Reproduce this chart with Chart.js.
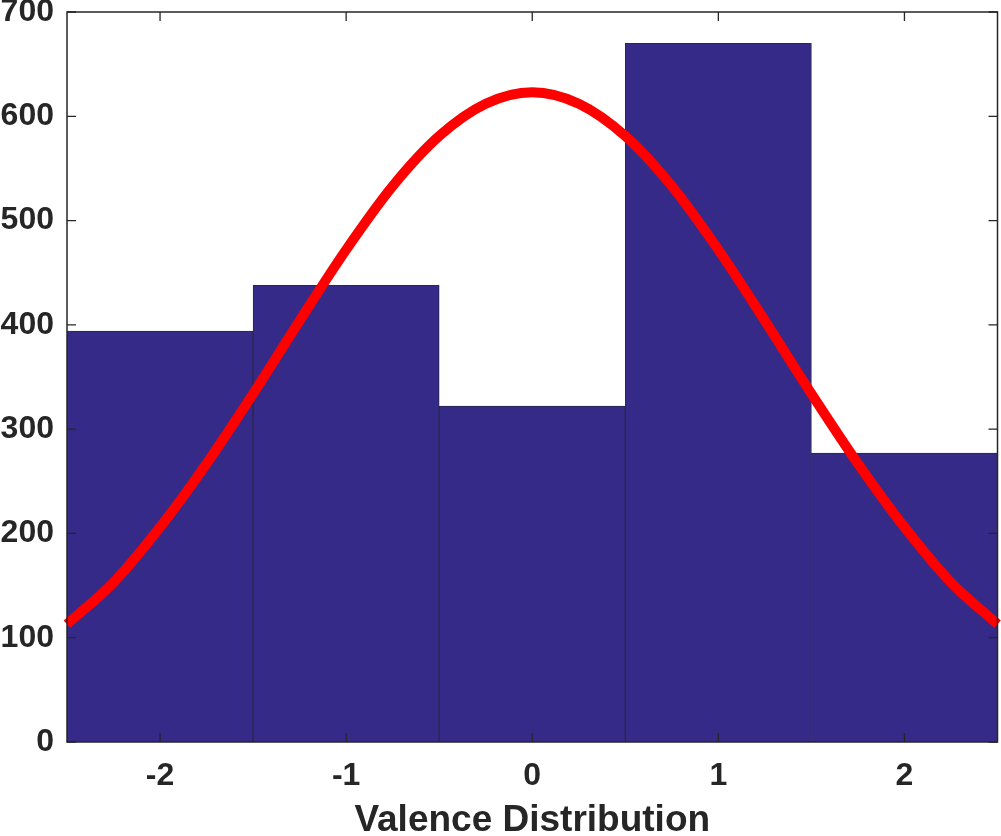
<!DOCTYPE html>
<html>
<head>
<meta charset="utf-8">
<script src="https://cdn.jsdelivr.net/npm/chart.js@4"></script>
<style>
  html, body { margin: 0; padding: 0; background: #fff; }
  #wrap { width: 1001px; height: 836px; position: relative; }
</style>
</head>
<body>
<div id="wrap"><canvas id="c"></canvas></div>
<script>
// Histogram bins (centres) and counts
const binCentres = [-2, -1, 0, 1, 2];
const binCounts  = [394, 438, 322, 670, 277];

// Fitted curve
const curveX = [-2.5, -2.25, -2, -1.75, -1.5, -1.25, -1, -0.75, -0.5, -0.25, 0,
                0.25, 0.5, 0.75, 1, 1.25, 1.5, 1.75, 2, 2.25, 2.5];
const curveY = [113, 153, 206, 267, 334, 404, 472, 533, 581, 612, 623,
                612, 581, 533, 472, 404, 334, 267, 206, 153, 113];

// Tick labels
const xTicks = [-2, -1, 0, 1, 2];
const yTicks = [0, 100, 200, 300, 400, 500, 600, 700];
const xTitle = 'Valence Distribution';

const axisColor = '#262626';
const tickFont = { family: "'Liberation Sans', Arial, sans-serif", size: 32, weight: 'bold' };

const frame = {
  id: 'frame',
  afterDraw(chart) {
    const { ctx, chartArea: a, scales: { x, y } } = chart;
    ctx.save();
    ctx.strokeStyle = axisColor;
    ctx.lineWidth = 1.5;
    ctx.strokeRect(a.left, a.top, a.right - a.left, a.bottom - a.top);
    ctx.lineWidth = 1.3;
    const tl = 9;
    ctx.beginPath();
    xTicks.forEach(v => {
      const px = x.getPixelForValue(v);
      ctx.moveTo(px, a.bottom); ctx.lineTo(px, a.bottom - tl);
      ctx.moveTo(px, a.top); ctx.lineTo(px, a.top + tl);
    });
    yTicks.forEach(v => {
      const py = y.getPixelForValue(v);
      ctx.moveTo(a.left, py); ctx.lineTo(a.left + tl, py);
      ctx.moveTo(a.right, py); ctx.lineTo(a.right - tl, py);
    });
    ctx.stroke();
    ctx.restore();
  }
};

new Chart(document.getElementById('c'), {
  data: {
    datasets: [
      {
        type: 'line',
        data: curveX.map((v, i) => ({ x: v, y: curveY[i] })),
        borderColor: '#ff0000',
        borderWidth: 10,
        pointRadius: 0,
        tension: 0.4,
        cubicInterpolationMode: 'monotone',
        clip: false,
        order: 0
      },
      {
        type: 'bar',
        data: binCentres.map((v, i) => ({ x: v, y: binCounts[i] })),
        backgroundColor: '#352a87',
        borderColor: '#2a2a44',
        borderWidth: 1,
        barPercentage: 1,
        categoryPercentage: 1,
        order: 1
      }
    ]
  },
  options: {
    responsive: true,
    maintainAspectRatio: false,
    animation: false,
    layout: { padding: { top: 12, right: 3.5, left: 0, bottom: 0 } },
    plugins: { legend: { display: false }, tooltip: { enabled: false } },
    scales: {
      x: {
        type: 'linear',
        offset: false,
        min: -2.5, max: 2.5,
        afterBuildTicks: s => { s.ticks = xTicks.map(v => ({ value: v })); },
        afterFit: s => { s.height = 94; s.paddingLeft = 0; s.paddingRight = 0; },
        grid: { display: false, drawTicks: false, offset: false },
        border: { display: false },
        ticks: { font: tickFont, color: axisColor, padding: 15, maxRotation: 0, autoSkip: false },
        title: {
          display: true, text: xTitle, color: axisColor,
          font: { family: "'Liberation Sans', Arial, sans-serif", size: 37, weight: 'bold', lineHeight: 0.8 },
          padding: { top: 0, bottom: 0 }
        }
      },
      y: {
        type: 'linear',
        min: 0, max: 700,
        afterBuildTicks: s => { s.ticks = yTicks.map(v => ({ value: v })); },
        afterFit: s => { s.width = 67; s.paddingTop = 0; s.paddingBottom = 0; },
        grid: { display: false, drawTicks: false },
        border: { display: false },
        ticks: { font: tickFont, color: axisColor, padding: 13 }
      }
    }
  },
  plugins: [frame]
});
</script>
</body>
</html>
